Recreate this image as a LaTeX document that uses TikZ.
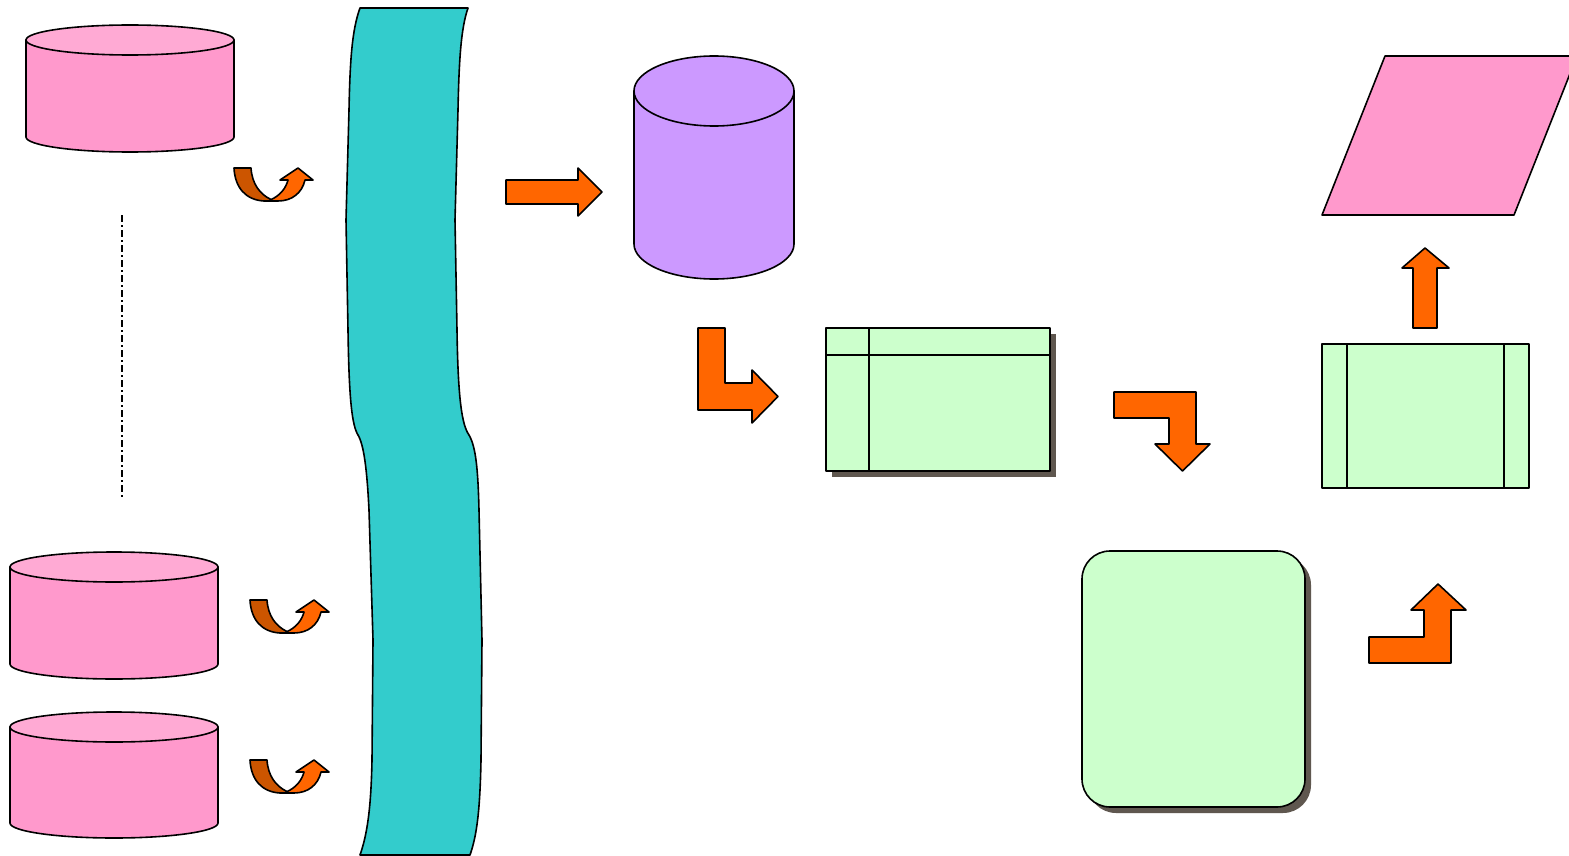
\documentclass[tikz,border=0pt]{standalone}
\begin{document}
\begin{tikzpicture}[x=1pt,y=-1pt,line join=round,
  outl/.style={draw=black,line width=1.6pt},
  pinkbody/.style={outl,fill=pinkC},
  pinktop/.style={outl,fill=pinkT},
  greenbox/.style={outl,fill=greenC},
  orangearrow/.style={outl,fill=orangeC},
  darkarrow/.style={outl,fill=darkorC},
  shadowbox/.style={fill=shadowC,draw=none}]
\definecolor{pinkC}{HTML}{FF99CC}
\definecolor{pinkT}{HTML}{FFAAD4}
\definecolor{greenC}{HTML}{CCFFCC}
\definecolor{orangeC}{HTML}{FF6600}
\definecolor{darkorC}{HTML}{CC5500}
\definecolor{tealC}{HTML}{33CCCC}
\definecolor{purpleC}{HTML}{CC99FF}
\definecolor{shadowC}{HTML}{5F574F}
\useasboundingbox[fill=white] (0,0) rectangle (1569,856);

% cylinders (left)
\foreach \x/\y/\w/\h in {26/40/208/97, 10/567/208/97, 10/727/208/96}{
  \path[pinkbody] (\x,\y) -- (\x,\y+\h) arc[start angle=180,end angle=0,x radius=\w/2,y radius=15] -- (\x+\w,\y) -- cycle;
  \path[pinktop] (\x+\w/2,\y) ellipse[x radius=\w/2,y radius=15];
}

% dash-dot line
\coordinate (dl1) at (122,215);
\coordinate (dl2) at (122,498);
\draw[line width=1.4pt,dash pattern=on 7pt off 3pt on 2pt off 3pt] (dl1) -- (dl2);

% U-turn arrows
\foreach \sx/\sy in {234/167, 250/599, 250/759}{
\begin{scope}[shift={(\sx,\sy)}]
  \path[darkarrow] (0,1) -- (17,1) .. controls (18,17) and (26,27) .. (36,32) -- (38,34) -- (30,34) .. controls (12,33) and (1,21) .. (0,1) -- cycle;
  \path[orangearrow] (36,33) .. controls (46,29) and (52,21) .. (54,13) -- (46,13) -- (64,1) -- (79,13) -- (71,13) .. controls (68,26) and (58,34) .. (44,34) -- (36,34) -- cycle;
\end{scope}}

% teal band
\path[outl,fill=tealC] (360,8) -- (468,8)
  .. controls (461,28) and (459,60) .. (458,110) -- (455,220) -- (457,330)
  .. controls (458,400) and (462,425) .. (469,435)
  .. controls (476,447) and (478,470) .. (479,510) -- (482,640) -- (481,760)
  .. controls (480,810) and (477,835) .. (470,855)
  -- (360,855)
  .. controls (367,835) and (371,810) .. (372,760) -- (373,640) -- (369,510)
  .. controls (367,470) and (364,445) .. (358,435)
  .. controls (352,425) and (349,400) .. (348,330) -- (346,220) -- (349,110)
  .. controls (350,60) and (352,30) .. (360,8) -- cycle;

% right arrow
\path[orangearrow] (506,180) -- (578,180) -- (578,168) -- (602,192) -- (578,216) -- (578,204) -- (506,204) -- cycle;

% purple cylinder
\path[outl,fill=purpleC] (634,91) -- (634,244) arc[start angle=180,end angle=0,x radius=80,y radius=35] -- (794,91) -- cycle;
\path[outl,fill=purpleC] (714,91) ellipse[x radius=80,y radius=35];

% L arrow down-right
\path[orangearrow] (698,328) -- (725,328) -- (725,383) -- (752,383) -- (752,370) -- (778,396.5) -- (752,423) -- (752,410) -- (698,410) -- cycle;

% internal storage
\path[shadowbox] (832,334) rectangle (1056,477);
\path[greenbox] (826,328) rectangle (1050,471);
\draw[line width=1.6pt] (826,355) -- (1050,355);
\draw[line width=1.6pt] (869,328) -- (869,471);

% arrow right-down
\path[orangearrow] (1114,392) -- (1196,392) -- (1196,444) -- (1210,444) -- (1182.5,471) -- (1155,444) -- (1169,444) -- (1169,418) -- (1114,418) -- cycle;

% rounded rectangle
\path[shadowbox,rounded corners=28pt] (1088,557) rectangle (1311,813);
\path[greenbox,rounded corners=28pt] (1082,551) rectangle (1305,807);

% arrow right-up
\path[orangearrow] (1369,637) -- (1424,637) -- (1424,610) -- (1411,610) -- (1438,584) -- (1466,610) -- (1451,610) -- (1451,663) -- (1369,663) -- cycle;

% predefined process
\path[greenbox] (1322,344) rectangle (1529,488);
\draw[line width=1.6pt] (1347,344) -- (1347,488);
\draw[line width=1.6pt] (1504,344) -- (1504,488);

% up arrow
\path[orangearrow] (1413,328) -- (1413,268) -- (1402,268) -- (1425,248) -- (1449,268) -- (1437,268) -- (1437,328) -- cycle;

% parallelogram
\path[outl,fill=pinkC] (1385,56) -- (1577,56) -- (1514,215) -- (1322,215) -- cycle;
\end{tikzpicture}
\end{document}
